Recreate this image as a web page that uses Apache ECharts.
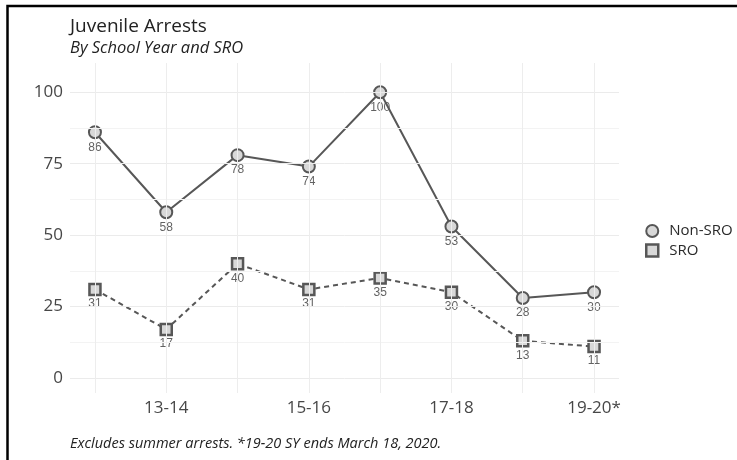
<!DOCTYPE html>
<html>
<head>
<meta charset="utf-8">
<script src="https://cdn.jsdelivr.net/npm/echarts@6/dist/echarts.min.js"></script>
<style>
  html, body { margin: 0; padding: 0; background: #fff; }
  #chart { width: 737px; height: 460px; }
</style>
</head>
<body>
<div id="chart"></div>
<script>
// School years along the x axis (every other one is labelled)
const schoolYears = ['12-13', '13-14', '14-15', '15-16', '16-17', '17-18', '18-19', '19-20*'];
const xTickIndex = [1, 3, 5, 7];

// Juvenile arrests per school year
const nonSroArrests = [86, 58, 78, 74, 100, 53, 28, 30];
const sroArrests = [31, 17, 40, 31, 35, 30, 13, 11];

// Y axis ticks and gridlines
const yTickValues = [0, 25, 50, 75, 100];
const yMinorValues = [12.5, 37.5, 62.5, 87.5];
const xGridIndex = [0, 1, 2, 3, 4, 5, 6, 7];

const toPoints = (arr) => arr.map((v, i) => [i, v]);

const lineGrey = '#575757';
const fillGrey = '#d8d8d8';
const labelStyle = {
  show: true,
  position: 'bottom',
  distance: 2,
  fontFamily: 'Liberation Sans',
  fontSize: 12,
  color: '#3a3a3a',
  formatter: (p) => p.value[1]
};

const chart = echarts.init(document.getElementById('chart'), null, { renderer: 'canvas' });

chart.setOption({
  animation: false,
  backgroundColor: '#ffffff',
  textStyle: { fontFamily: 'Open Sans' },
  grid: { left: 70, right: 118, top: 63, bottom: 67, containLabel: false },
  xAxis: {
    type: 'value',
    min: -0.35,
    max: 7.35,
    axisLine: { show: false },
    axisTick: { show: false },
    splitLine: { show: false },
    axisLabel: {
      customValues: xTickIndex,
      formatter: (v) => schoolYears[Math.round(v)],
      fontFamily: 'Open Sans',
      fontSize: 17,
      color: '#474747',
      margin: 7
    }
  },
  yAxis: {
    type: 'value',
    min: -5.25,
    max: 110.25,
    axisLine: { show: false },
    axisTick: { show: false },
    splitLine: { show: false },
    axisLabel: {
      customValues: yTickValues,
      fontFamily: 'Open Sans',
      fontSize: 17,
      color: '#474747',
      margin: 7
    }
  },
  legend: {
    orient: 'vertical',
    left: 640,
    top: 218,
    itemWidth: 12,
    itemHeight: 12,
    itemGap: 3.5,
    textStyle: { fontFamily: 'Open Sans', fontSize: 15, color: '#2a2a2a', lineHeight: 16, padding: [0, 0, 0, 6] },
    data: [
      { name: 'Non-SRO', icon: 'circle', itemStyle: { color: fillGrey, borderColor: lineGrey, borderWidth: 2 } },
      { name: 'SRO', icon: 'rect', itemStyle: { color: fillGrey, borderColor: lineGrey, borderWidth: 2.5 } }
    ]
  },
  graphic: [
    {
      type: 'rect',
      silent: true,
      shape: { x: 7.5, y: 6, width: 800, height: 600 },
      style: { fill: 'none', stroke: '#000', lineWidth: 2.5 }
    },
    {
      type: 'text',
      style: { x: 70, y: 27, text: 'Juvenile Arrests', font: '19px "Open Sans"', fill: '#222', verticalAlign: 'middle' }
    },
    {
      type: 'text',
      style: { x: 70, y: 48, text: 'By School Year and SRO', font: 'italic 16.5px "Open Sans"', fill: '#222', verticalAlign: 'middle' }
    },
    {
      type: 'text',
      style: { x: 70, y: 444, text: 'Excludes summer arrests. *19-20 SY ends March 18, 2020.', font: 'italic 14.5px "Open Sans"', fill: '#222', verticalAlign: 'middle' }
    }
  ],
  series: [
    {
      // panel gridlines
      name: 'grid',
      type: 'line',
      data: [],
      z: 0,
      silent: true,
      markLine: {
        silent: true,
        symbol: 'none',
        label: { show: false },
        animation: false,
        data: [
          ...yMinorValues.map((v) => ({ yAxis: v, lineStyle: { color: '#f3f3f3', width: 1, type: 'solid' } })),
          ...yTickValues.map((v) => ({ yAxis: v, lineStyle: { color: '#ebebeb', width: 1, type: 'solid' } })),
          ...xGridIndex.map((v) => ({ xAxis: v, lineStyle: { color: '#ededed', width: 1, type: 'solid' } }))
        ]
      }
    },
    {
      // value labels sit beneath the lines
      name: 'Non-SRO values',
      type: 'scatter',
      data: toPoints(nonSroArrests),
      symbol: 'circle',
      symbolSize: 14,
      itemStyle: { color: 'rgba(0,0,0,0)' },
      label: labelStyle,
      z: 1,
      silent: true
    },
    {
      name: 'SRO values',
      type: 'scatter',
      data: toPoints(sroArrests),
      symbol: 'rect',
      symbolSize: 13,
      itemStyle: { color: 'rgba(0,0,0,0)' },
      label: labelStyle,
      z: 1,
      silent: true
    },
    {
      name: 'SRO',
      type: 'line',
      data: toPoints(sroArrests),
      symbol: 'rect',
      symbolSize: 11,
      z: 3,
      lineStyle: { color: lineGrey, width: 2, type: [5, 4] },
      itemStyle: { color: fillGrey, borderColor: lineGrey, borderWidth: 2.5 }
    },
    {
      name: 'Non-SRO',
      type: 'line',
      data: toPoints(nonSroArrests),
      symbol: 'circle',
      symbolSize: 12,
      z: 4,
      lineStyle: { color: lineGrey, width: 2 },
      itemStyle: { color: fillGrey, borderColor: lineGrey, borderWidth: 2 }
    }
  ]
});
</script>
</body>
</html>
